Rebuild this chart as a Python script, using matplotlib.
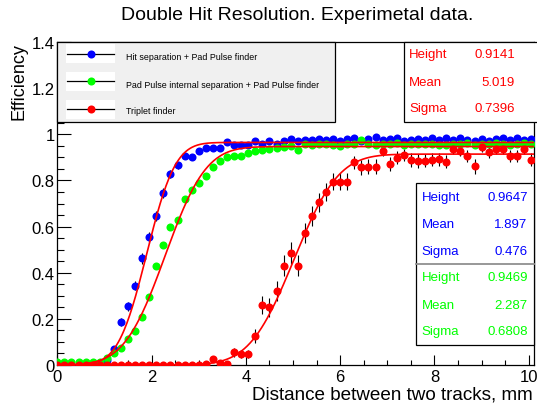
import math
import numpy as np
import matplotlib
matplotlib.use("Agg")
import matplotlib.pyplot as plt
from matplotlib.patches import Rectangle
from matplotlib.lines import Line2D
from matplotlib.ticker import MultipleLocator, FuncFormatter

plt.rcParams['font.family'] = ['Liberation Sans', 'DejaVu Sans']

# efficiency per bin, bins every 0.15 mm starting at 0
blue_eff = [0, 0, 0, 0, 0, 0, 0, 0.020, 0.068, 0.185,
            0.254, 0.344, 0.462, 0.553, 0.645, 0.746, 0.828, 0.866, 0.908, 0.900,
            0.929, 0.942, 0.942, 0.942, 0.968, 0.955, 0.955, 0.955, 0.970, 0.958,
            0.972, 0.960, 0.970, 0.980, 0.970, 0.975, 0.975, 0.980, 0.975, 0.980,
            0.972, 0.980, 0.985, 0.972, 0.980, 0.988, 0.975, 0.980, 0.985, 0.972,
            0.975, 0.980, 0.975, 0.984, 0.975, 0.984, 0.975, 0.984, 0.975, 0.970,
            0.980, 0.972, 0.980, 0.984, 0.975, 0.984, 0.975, 0.980]
blue_err = [0, 0, 0, 0, 0, 0, 0, 0.007, 0.011, 0.017,
            0.020, 0.021, 0.023, 0.023, 0.022, 0.020, 0.017, 0.015, 0.013, 0.013,
            0.011, 0.010, 0.010, 0.010, 0.008, 0.009, 0.009, 0.009, 0.008, 0.009,
            0.008, 0.009, 0.008, 0.007, 0.008, 0.007, 0.007, 0.007, 0.007, 0.007,
            0.008, 0.007, 0.006, 0.008, 0.007, 0.006, 0.007, 0.007, 0.006, 0.008,
            0.007, 0.007, 0.007, 0.006, 0.007, 0.006, 0.007, 0.006, 0.007, 0.008,
            0.007, 0.008, 0.007, 0.006, 0.007, 0.006, 0.007, 0.007]

green_eff = [0.012, 0.012, 0.012, 0.012, 0.012, 0.012, 0.012, 0.030, 0.050, 0.072,
             0.113, 0.146, 0.207, 0.296, 0.430, 0.520, 0.600, 0.630, 0.720, 0.757,
             0.790, 0.820, 0.860, 0.885, 0.900, 0.905, 0.907, 0.918, 0.929, 0.932,
             0.936, 0.940, 0.946, 0.950, 0.930, 0.958, 0.955, 0.960, 0.958, 0.955,
             0.948, 0.958, 0.960, 0.975, 0.958, 0.955, 0.960, 0.958, 0.962, 0.955,
             0.958, 0.960, 0.958, 0.960, 0.955, 0.955, 0.960, 0.958, 0.962, 0.955,
             0.960, 0.958, 0.962, 0.958, 0.955, 0.960, 0.962, 0.958]
green_err = [0, 0, 0, 0, 0, 0, 0, 0.004, 0.005, 0.006,
             0.007, 0.008, 0.009, 0.010, 0.011, 0.011, 0.011, 0.011, 0.010, 0.010,
             0.009, 0.009, 0.008, 0.007, 0.007, 0.006, 0.006, 0.006, 0.005, 0.005,
             0.005, 0.005, 0.005, 0.005, 0.005, 0.004, 0.004, 0.004, 0.004, 0.004,
             0.005, 0.004, 0.004, 0.004, 0.004, 0.004, 0.004, 0.004, 0.004, 0.004,
             0.004, 0.004, 0.004, 0.004, 0.004, 0.004, 0.004, 0.004, 0.004, 0.004,
             0.004, 0.004, 0.004, 0.004, 0.004, 0.004, 0.004, 0.004]

red_eff = [0, 0, 0, 0, 0, 0, 0, 0, 0, 0,
           0, 0, 0, 0, 0, 0, 0, 0, 0, 0,
           0, 0.005, 0.025, 0.010, 0.005, 0.055, 0.048, 0.048, 0.124, 0.260,
           0.250, 0.320, 0.430, 0.485, 0.430, 0.572, 0.647, 0.705, 0.750, 0.795,
           0.795, 0.795, 0.878, 0.857, 0.860, 0.860, 0.929, 0.872, 0.898, 0.910,
           0.888, 0.884, 0.886, 0.890, 0.892, 0.881, 0.935, 0.929, 0.906, 0.861,
           0.945, 0.922, 0.935, 0.935, 0.907, 0.907, 0.937, 0.889]
red_err = [0, 0, 0, 0, 0, 0, 0, 0, 0, 0,
           0, 0, 0, 0, 0, 0, 0, 0, 0, 0,
           0, 0.006, 0.014, 0.009, 0.006, 0.020, 0.019, 0.019, 0.030, 0.040,
           0.040, 0.043, 0.045, 0.046, 0.045, 0.045, 0.044, 0.042, 0.040, 0.037,
           0.037, 0.037, 0.030, 0.032, 0.032, 0.032, 0.023, 0.030, 0.028, 0.026,
           0.029, 0.029, 0.029, 0.028, 0.028, 0.029, 0.022, 0.023, 0.027, 0.031,
           0.021, 0.025, 0.022, 0.022, 0.027, 0.027, 0.022, 0.028]

bin_step = 0.15
dist = np.arange(len(blue_eff)) * bin_step

labels = ["Hit separation + Pad Pulse finder",
          "Pad Pulse internal separation + Pad Pulse finder",
          "Triplet finder"]
colors = ["#0000ff", "#00ff00", "#ff0000"]

par_names = ["Height", "Mean", "Sigma"]
blue_fit = [0.9647, 1.897, 0.476]
green_fit = [0.9469, 2.287, 0.6808]
red_fit = [0.9141, 5.019, 0.7396]
blue_fit_txt = ["0.9647", "1.897", "0.476"]
green_fit_txt = ["0.9469", "2.287", "0.6808"]
red_fit_txt = ["0.9141", "5.019", "0.7396"]


def erf_curve(x, p):
    h, m, s = p
    return np.array([h * 0.5 * (1 + math.erf((v - m) / (math.sqrt(2) * s))) for v in x])


W, H = 537, 406
fig = plt.figure(figsize=(W / 100, H / 100), dpi=100)


def fx(px):
    return px / W


def fy(py):
    return 1 - py / H


ax = fig.add_axes([fx(57.3), fy(366), fx(533.5) - fx(57.3), fy(43) - fy(366)])
ax.set_xlim(0, 10.1)
ax.set_ylim(0, 1.4)

series = [(blue_eff, blue_err), (green_eff, green_err), (red_eff, red_err)]
for (eff, err), c in zip(series, colors):
    ax.errorbar(dist, eff, yerr=err, fmt='o', color=c, ms=5.8, mew=0,
                ecolor='black', elinewidth=0.8, capsize=1.5, capthick=0.8, zorder=3)

xf = np.linspace(0, 10.1, 500)
for p in (blue_fit, green_fit, red_fit):
    ax.plot(xf, erf_curve(xf, p), color='red', lw=1.2, zorder=5)

ax.xaxis.set_major_locator(MultipleLocator(2))
ax.xaxis.set_minor_locator(MultipleLocator(0.5))
ax.yaxis.set_major_locator(MultipleLocator(0.2))
ax.yaxis.set_minor_locator(MultipleLocator(0.05))
fmt = FuncFormatter(lambda v, pos: "%g" % round(v, 2))
ax.xaxis.set_major_formatter(fmt)
ax.yaxis.set_major_formatter(fmt)
ax.tick_params(which='both', direction='in', top=False, right=False, width=0.8)
ax.tick_params(axis='y', which='major', length=10, labelsize=12, pad=2)
ax.tick_params(axis='y', which='minor', length=5)
ax.tick_params(axis='x', which='major', length=7, labelsize=12, pad=3)
ax.tick_params(axis='x', which='minor', length=3.5)
for sp in ax.spines.values():
    sp.set_linewidth(0.9)

# legend box
fig.patches.append(Rectangle((fx(57.3), fy(123)), fx(335) - fx(57.3), (123 - 43) / H,
                             transform=fig.transFigure, facecolor='#f0f0f0',
                             edgecolor='black', lw=0.9))
marker_rows = [54.5, 82.3, 110]
text_rows = [58, 85.5, 111]
for lab, c, my, ty in zip(labels, colors, marker_rows, text_rows):
    fig.patches.append(Rectangle((fx(66), fy(my + 9.5)), fx(115) - fx(66), 19 / H,
                                 transform=fig.transFigure, facecolor='white',
                                 edgecolor='none'))
    fig.lines.append(Line2D([fx(67), fx(114)], [fy(my), fy(my)], transform=fig.transFigure,
                            color='black', lw=0.9))
    fig.lines.append(Line2D([fx(90.5)], [fy(my)], transform=fig.transFigure, marker='o',
                            ms=5.8, mew=0, color=c))
    fig.text(fx(126), fy(ty), lab, fontsize=6.4, ha='left', va='center')

# stats box for the triplet fit
fig.patches.append(Rectangle((fx(404), fy(123)), fx(545) - fx(404), (123 - 43) / H,
                             transform=fig.transFigure, facecolor='white',
                             edgecolor='black', lw=0.9))
for name, val, py in zip(par_names, red_fit_txt, [55, 83.3, 109.3]):
    fig.text(fx(409), fy(py), name, color=colors[2], fontsize=9.5, ha='left', va='center')
    fig.text(fx(515), fy(py), val, color=colors[2], fontsize=9.5, ha='right', va='center')

# stats box for the blue and green fits
fig.patches.append(Rectangle((fx(415.7), fy(346)), fx(534) - fx(415.7), (346 - 184.3) / H,
                             transform=fig.transFigure, facecolor='white',
                             edgecolor='black', lw=0.9))
fig.lines.append(Line2D([fx(415.7), fx(534)], [fy(265), fy(265)], transform=fig.transFigure,
                        color='#909090', lw=1.3))
for name, val, py in zip(par_names, blue_fit_txt, [197.7, 225, 251.7]):
    fig.text(fx(421.7), fy(py), name, color=colors[0], fontsize=9.5, ha='left', va='center')
    fig.text(fx(527.7), fy(py), val, color=colors[0], fontsize=9.5, ha='right', va='center')
for name, val, py in zip(par_names, green_fit_txt, [277.7, 305.7, 332.3]):
    fig.text(fx(421.7), fy(py), name, color=colors[1], fontsize=9.5, ha='left', va='center')
    fig.text(fx(527.7), fy(py), val, color=colors[1], fontsize=9.5, ha='right', va='center')

fig.text(fx(297), fy(15), "Double Hit Resolution. Experimetal data.", fontsize=14,
         ha='center', va='center')
fig.text(fx(533), fy(395), "Distance between two tracks, mm", fontsize=13.6,
         ha='right', va='center')
fig.text(fx(19), fy(43), "Efficiency", fontsize=13, rotation=90, ha='center', va='top')

fig.savefig("out.png", dpi=100)
